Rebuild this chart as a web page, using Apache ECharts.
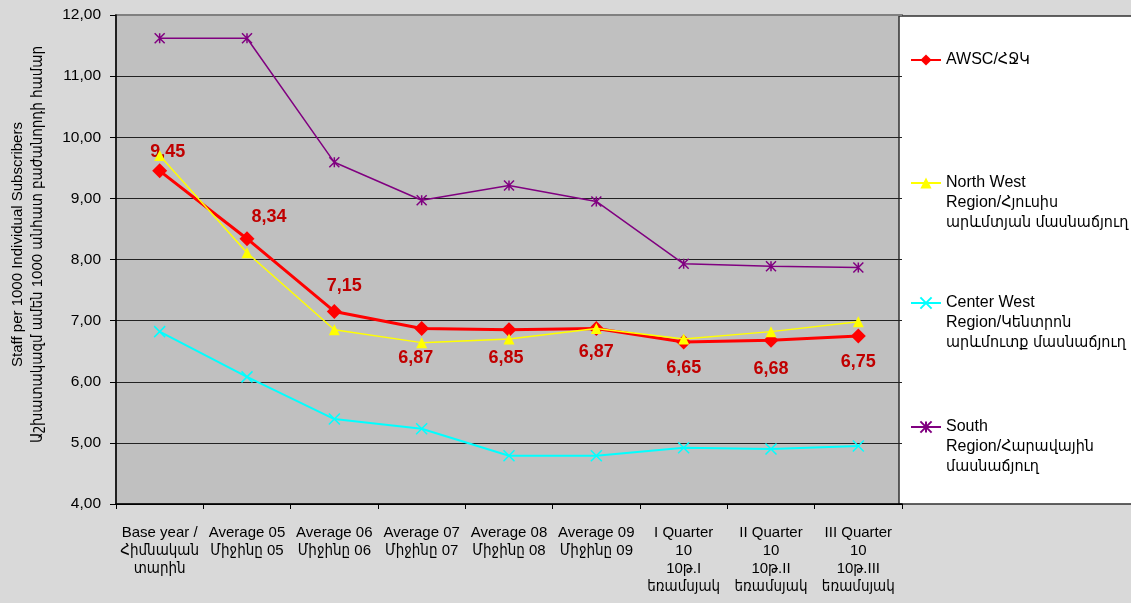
<!DOCTYPE html>
<html>
<head>
<meta charset="utf-8">
<script src="https://cdn.jsdelivr.net/npm/echarts@6/dist/echarts.min.js"></script>
<style>
  html, body { margin: 0; padding: 0; background: #d9d9d9; }
  #chart { width: 1131px; height: 603px; }
</style>
</head>
<body>
<div id="chart"></div>
<script>
// categories (x axis)
const categories = [
  'Base year /\nՀիմնական\nտարին',
  'Average 05\nՄիջինը 05',
  'Average 06\nՄիջինը 06',
  'Average 07\nՄիջինը 07',
  'Average 08\nՄիջինը 08',
  'Average 09\nՄիջինը 09',
  'I Quarter\n10\n10թ.I\nեռամսյակ',
  'II Quarter\n10\n10թ.II\nեռամսյակ',
  'III Quarter\n10\n10թ.III\nեռամսյակ'
]

const seriesNames = [
  'AWSC/ՀՋԿ',
  'North West\nRegion/Հյուսիս\nարևմտյան մասնաճյուղ',
  'Center West\nRegion/Կենտրոն\nարևմուտք մասնաճյուղ',
  'South\nRegion/Հարավային\nմասնաճյուղ'
]

const awsc = [9.45, 8.34, 7.15, 6.87, 6.85, 6.87, 6.65, 6.68, 6.75]
const northWest = [9.70, 8.11, 6.85, 6.64, 6.70, 6.87, 6.70, 6.82, 6.98]
const centerWest = [6.82, 6.08, 5.39, 5.23, 4.79, 4.79, 4.92, 4.90, 4.95]
const south = [11.62, 11.62, 9.59, 8.97, 9.21, 8.95, 7.93, 7.89, 7.87]

const yMin = 4
const yMax = 12
const yStep = 1

const fmt = v => v.toFixed(2).replace('.', ',')

// label placement for the AWSC values
const labelPlace = [
  ['top', [8, 3]], ['top', [22, 0]], ['top', [10, -4]],
  ['bottom', [-6, 8]], ['bottom', [-3, 7]], ['bottom', [0, 2]],
  ['bottom', [0, 5]], ['bottom', [0, 7]], ['bottom', [0, 5]]
]

const font = '"Liberation Sans", Arial, "DejaVu Sans Condensed", "DejaVu Sans", sans-serif'

const chart = echarts.init(document.getElementById('chart'))

// one legend per entry, icon lined up with the first text line
function legendFor(name, iconY, lines) {
  const lh = 20
  const total = lines * 2 - 1
  return {
    data: [name],
    left: 910,
    top: iconY - total * lh / 2,
    padding: 0,
    itemWidth: 30,
    itemHeight: 14,
    selectedMode: false,
    formatter: n => '\n'.repeat(lines - 1) + n,
    textStyle: { fontFamily: font, fontSize: 16, color: '#000', lineHeight: lh }
  }
}

chart.setOption({
  backgroundColor: 'transparent',
  animation: false,
  grid: {
    left: 114, right: 229, top: 15, bottom: 99,
    show: true, backgroundColor: '#c0c0c0', borderColor: '#808080', borderWidth: 2
  },
  graphic: [{
    type: 'rect',
    shape: { x: 899, y: 16, width: 240, height: 488 },
    style: { fill: '#fff', stroke: '#303030', lineWidth: 1.5 },
    z: 0
  }],
  legend: [
    legendFor(seriesNames[0], 60, 1),
    legendFor(seriesNames[1], 183, 3),
    legendFor(seriesNames[2], 303, 3),
    legendFor(seriesNames[3], 427, 3)
  ],
  xAxis: {
    type: 'category',
    data: categories,
    boundaryGap: true,
    axisLine: { lineStyle: { color: '#000', width: 1.5 } },
    axisTick: { show: true, length: 5, lineStyle: { color: '#000' } },
    axisLabel: {
      fontFamily: font, fontSize: 15, color: '#000', lineHeight: 18,
      margin: 20, interval: 0
    }
  },
  yAxis: {
    type: 'value',
    min: yMin, max: yMax, interval: yStep,
    name: 'Staff per 1000 Individual Subscribers\nԱշխատակազմ ամեն 1000 անհատ բաժանորդի համար',
    nameLocation: 'middle',
    nameGap: 68,
    nameTextStyle: {
      fontFamily: font, fontSize: 15, color: '#000', lineHeight: 20,
      padding: [0, 0, 0, 30]
    },
    axisLine: { show: true, lineStyle: { color: '#000', width: 1.5 } },
    axisTick: { show: true, length: 6, lineStyle: { color: '#000' } },
    axisLabel: {
      fontFamily: font, fontSize: 15.5, color: '#000', margin: 15,
      formatter: v => fmt(v)
    },
    splitLine: {
      lineStyle: {
        color: ['#000', '#222', '#222', '#222', '#222', '#222', '#222', '#222', '#808080'],
        width: 1.2
      }
    }
  },
  series: [
    {
      name: seriesNames[0],
      type: 'line',
      data: awsc.map((v, i) => ({
        value: v,
        label: { position: labelPlace[i][0], offset: labelPlace[i][1] }
      })),
      symbol: 'diamond',
      symbolSize: 15,
      lineStyle: { color: '#ff0000', width: 3 },
      itemStyle: { color: '#ff0000' },
      label: {
        show: true,
        fontFamily: font, fontSize: 18, fontWeight: 'bold', color: '#c00000',
        formatter: p => fmt(p.value)
      },
      z: 3
    },
    {
      name: seriesNames[1],
      type: 'line',
      data: northWest,
      symbol: 'triangle',
      symbolSize: 11,
      lineStyle: { color: '#ffff00', width: 1.5 },
      itemStyle: { color: '#ffff00' },
      z: 4
    },
    {
      name: seriesNames[2],
      type: 'line',
      data: centerWest,
      symbol: 'path://M0,0L10,10M10,0L0,10',
      symbolSize: 11,
      lineStyle: { color: '#00ffff', width: 2 },
      itemStyle: { color: '#00ffff', borderColor: '#00ffff', borderWidth: 1.5 },
      z: 5
    },
    {
      name: seriesNames[3],
      type: 'line',
      data: south,
      symbol: 'path://M0,0L10,10M10,0L0,10M5,0L5,10',
      symbolSize: 10,
      lineStyle: { color: '#800080', width: 1.5 },
      itemStyle: { color: '#800080', borderColor: '#800080', borderWidth: 1.5 },
      z: 6
    }
  ]
})
</script>
</body>
</html>
